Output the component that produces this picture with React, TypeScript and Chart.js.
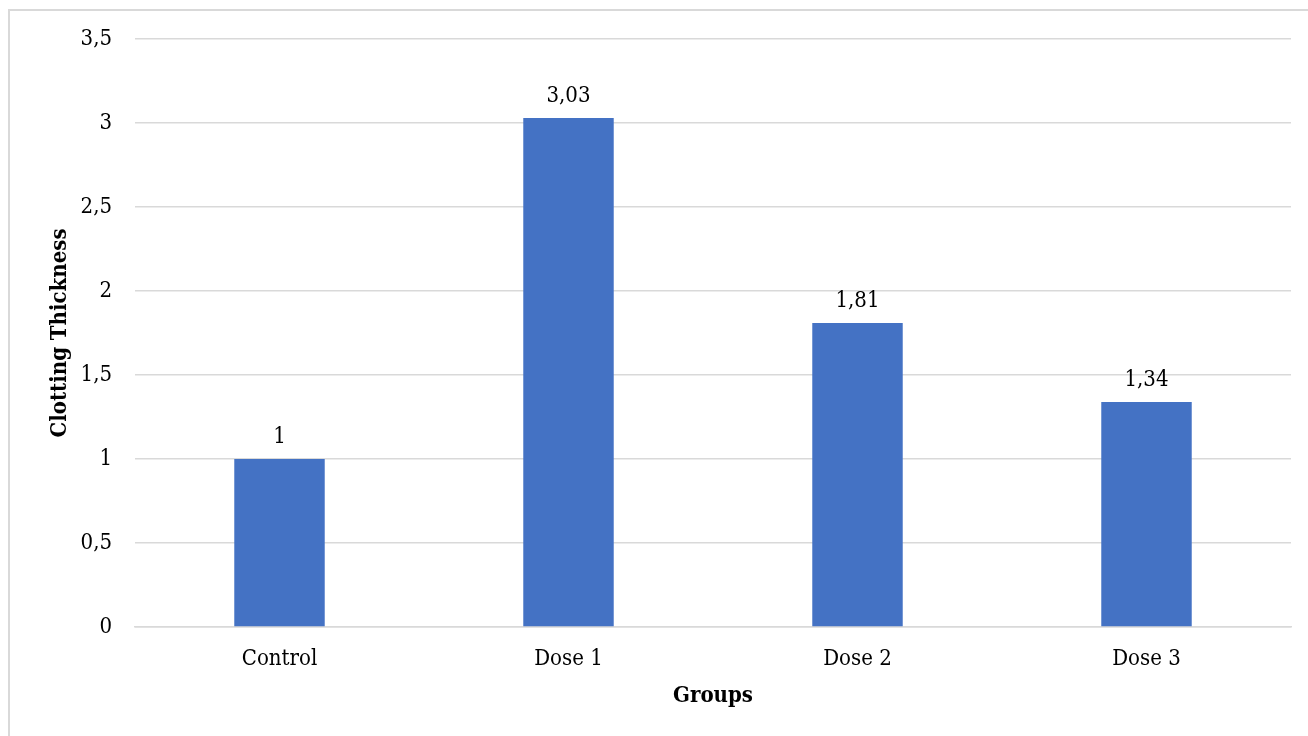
import React, { useEffect, useRef } from "react";
import { Chart, registerables } from "chart.js";

Chart.register(...registerables);

const categories: string[] = ["Control", "Dose 1", "Dose 2", "Dose 3"];
const values: number[] = [1, 3.03, 1.81, 1.34];
const valueLabels: string[] = ["1", "3,03", "1,81", "1,34"];
const yTickLabels: string[] = ["0", "0,5", "1", "1,5", "2", "2,5", "3", "3,5"];
const yTitle = "Clotting Thickness";
const xTitle = "Groups";

const FONT = "'DejaVu Serif Condensed', 'DejaVu Serif', serif";

const dataLabelPlugin = {
  id: "dataLabels",
  afterDatasetsDraw(chart: any) {
    const ctx = chart.ctx;
    const meta = chart.getDatasetMeta(0);
    ctx.save();
    ctx.font = `22px ${FONT}`;
    ctx.fillStyle = "#000000";
    ctx.textAlign = "center";
    ctx.textBaseline = "middle";
    meta.data.forEach((bar: any, i: number) => {
      ctx.fillText(valueLabels[i], bar.x, bar.y - 22);
    });
    ctx.restore();
  },
};

export default function App() {
  const canvasRef = useRef<HTMLCanvasElement | null>(null);

  useEffect(() => {
    if (!canvasRef.current) return;
    const chart = new Chart(canvasRef.current, {
      type: "bar",
      data: {
        labels: categories,
        datasets: [
          {
            data: values,
            backgroundColor: "#4472C4",
            borderWidth: 0,
            barPercentage: 0.313,
            categoryPercentage: 1,
          },
        ],
      },
      options: {
        animation: false,
        responsive: false,
        devicePixelRatio: 1,
        layout: { padding: { top: 39, right: 17, left: 0, bottom: 0 } },
        plugins: {
          legend: { display: false },
          tooltip: { enabled: false },
        },
        scales: {
          x: {
            afterFit: (scale: any) => {
              scale.height = 109;
            },
            grid: { display: false, drawTicks: false },
            border: { display: true, color: "#d9d9d9", width: 1.5 },
            ticks: {
              color: "#000000",
              font: { family: FONT, size: 22 },
              padding: 19,
              maxRotation: 0,
            },
            title: {
              display: true,
              text: xTitle,
              color: "#000000",
              font: { family: FONT, size: 22, weight: "bold" },
              padding: { top: 0, bottom: 27 },
            },
          },
          y: {
            min: 0,
            max: 3.5,
            afterFit: (scale: any) => {
              scale.width = 135;
            },
            grid: { color: "#d9d9d9", lineWidth: 1.5, drawTicks: false },
            border: { display: false },
            ticks: {
              stepSize: 0.5,
              color: "#000000",
              font: { family: FONT, size: 22 },
              padding: 23,
              callback: (_v: any, i: number) => yTickLabels[i],
            },
            title: {
              display: true,
              text: yTitle,
              color: "#000000",
              font: { family: FONT, size: 22, weight: "bold" },
              padding: { top: 47, bottom: 0 },
            },
          },
        },
      },
      plugins: [dataLabelPlugin],
    });
    return () => chart.destroy();
  }, []);

  return (
    <div style={{ position: "fixed", left: 0, top: 0, width: 1308, height: 736, overflow: "hidden", background: "#ffffff" }}>
      <div
        style={{
          position: "absolute",
          left: 8,
          top: 9,
          width: 1330,
          height: 760,
          border: "2px solid #d9d9d9",
          boxSizing: "border-box",
        }}
      />
      <canvas
        ref={canvasRef}
        width={1308}
        height={736}
        style={{ position: "absolute", left: 0, top: 0, width: 1308, height: 736 }}
      />
    </div>
  );
}
